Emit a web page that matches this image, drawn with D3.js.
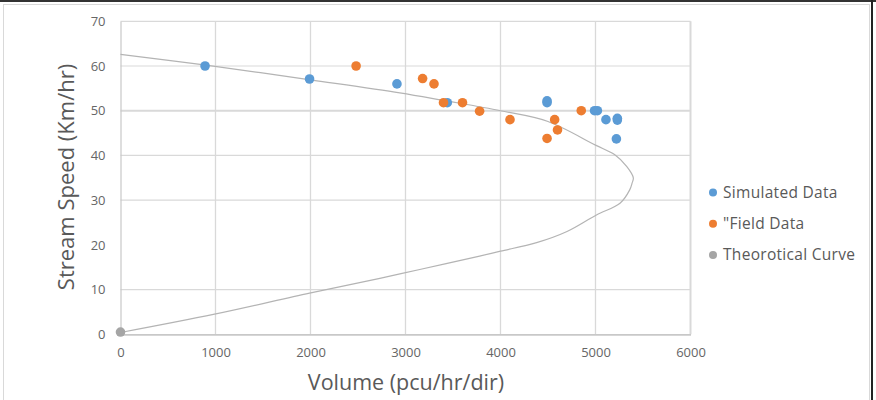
<!DOCTYPE html>
<html>
<head>
<meta charset="utf-8">
<script src="https://cdn.jsdelivr.net/npm/d3@7"></script>
<style>
  html, body { margin: 0; padding: 0; background: #fff; }
  svg { display: block; }
</style>
</head>
<body>
<svg id="chart" width="876" height="400"></svg>
<script>
// ---- Data ----
const xTicks = [0, 1000, 2000, 3000, 4000, 5000, 6000];
const yTicks = [0, 10, 20, 30, 40, 50, 60, 70];
const yGridValues = [10, 30, 40, 50, 60, 70];

const simulatedVolume = [890, 1990, 2910, 3440, 4490, 4490, 4990, 5020, 5110, 5230, 5230, 5220];
const simulatedSpeed  = [60, 57.1, 56, 51.8, 52.2, 51.8, 50, 50, 48, 48.3, 47.9, 43.7];

const fieldVolume = [2480, 3180, 3300, 3400, 3600, 3780, 4100, 4570, 4600, 4490, 4850];
const fieldSpeed  = [60, 57.2, 56, 51.8, 51.8, 49.9, 48, 48, 45.7, 43.8, 50];

const curveVolume = [0, 900, 2000, 2940, 3400, 4000, 4500, 5000, 5200, 5330, 5398, 5385, 5360, 5258, 5010, 4700, 4380, 4000, 3780, 3150, 2730, 1990, 990, 0];
const curveSpeed  = [62.6, 60.2, 56.9, 54.0, 52.3, 50.0, 47.6, 42.3, 40.2, 37.5, 35.0, 33.8, 32.3, 29.3, 26.7, 23.0, 20.5, 18.6, 17.5, 14.5, 12.5, 9.2, 4.5, 0.4];

const theoryPointVolume = [0];
const theoryPointSpeed  = [0.5];

const legendLabels = ["Simulated Data", "\"Field Data", "Theorotical Curve"];
const legendColors = ["#5b9bd5", "#ed7d31", "#a5a5a5"];

// ---- Drawing ----
const svg = d3.select("#chart");
const font = "'Open Sans', Lato, sans-serif";
const textColor = "#595959";

// frame
svg.append("rect").attr("x", 0).attr("y", 0).attr("width", 876).attr("height", 2).attr("fill", "#333");
svg.append("line").attr("x1", 3).attr("x2", 870).attr("y1", 4.5).attr("y2", 4.5).attr("stroke", "#d9d9d9");
svg.append("line").attr("x1", 3.5).attr("x2", 3.5).attr("y1", 4).attr("y2", 400).attr("stroke", "#d9d9d9");
svg.append("line").attr("x1", 869.5).attr("x2", 869.5).attr("y1", 4).attr("y2", 400).attr("stroke", "#d9d9d9");
svg.append("rect").attr("x", 871).attr("y", 0).attr("width", 2).attr("height", 400).attr("fill", "#222");

const x = d3.scaleLinear().domain([0, 6000]).range([120.5, 690.5]);
const y = d3.scaleLinear().domain([0, 70]).range([334.3, 21.3]);

// gridlines
const grid = svg.append("g");
grid.selectAll("line.h").data(yGridValues).join("line")
  .attr("x1", x(0)).attr("x2", x(6000))
  .attr("y1", d => y(d)).attr("y2", d => y(d))
  .attr("stroke", "#d9d9d9").attr("stroke-width", d => d === 50 ? 1.8 : 1.2);
grid.selectAll("line.v").data(xTicks.slice(1)).join("line")
  .attr("x1", d => x(d)).attr("x2", d => x(d))
  .attr("y1", y(70)).attr("y2", y(0))
  .attr("stroke", "#d9d9d9").attr("stroke-width", d => d === 6000 ? 2 : 1.3);

// axes
const xAxis = svg.append("g").attr("transform", `translate(0,${y(0)})`)
  .call(d3.axisBottom(x).tickValues(xTicks).tickSize(0).tickPadding(13).tickFormat(d3.format("d")));
xAxis.select(".domain").attr("stroke", "#c8c8c8").attr("stroke-width", 1.8);
xAxis.selectAll("text").attr("fill", "#666").attr("font-family", font).attr("font-size", "13px");

const yAxis = svg.append("g").attr("transform", `translate(${x(0)},0)`)
  .call(d3.axisLeft(y).tickValues(yTicks).tickSize(0).tickPadding(15));
yAxis.select(".domain").attr("stroke", "#c8c8c8").attr("stroke-width", 1.2);
yAxis.selectAll("text").attr("fill", "#666").attr("font-family", font).attr("font-size", "13px");

// theoretical curve
const curvePts = curveVolume.map((v, i) => [v, curveSpeed[i]]);
svg.append("path").datum(curvePts)
  .attr("d", d3.line().x(d => x(d[0])).y(d => y(d[1])).curve(d3.curveCatmullRom.alpha(0.5)))
  .attr("fill", "none").attr("stroke", "#b4b4b4").attr("stroke-width", 1.2);

// markers
function drawPoints(vols, speeds, color) {
  svg.append("g").selectAll("circle").data(vols.map((v, i) => [v, speeds[i]])).join("circle")
    .attr("cx", d => x(d[0])).attr("cy", d => y(d[1])).attr("r", 4.8).attr("fill", color);
}
drawPoints(theoryPointVolume, theoryPointSpeed, legendColors[2]);
drawPoints(simulatedVolume, simulatedSpeed, legendColors[0]);
drawPoints(fieldVolume, fieldSpeed, legendColors[1]);

// axis titles
svg.append("text").attr("x", 406).attr("y", 390).attr("text-anchor", "middle")
  .attr("font-family", font).attr("font-size", "21.5px").attr("fill", textColor)
  .text("Volume (pcu/hr/dir)");
svg.append("text").attr("transform", "translate(74,177) rotate(-90)").attr("text-anchor", "middle")
  .attr("font-family", font).attr("font-size", "22px").attr("fill", textColor)
  .text("Stream Speed (Km/hr)");

// legend
const legend = svg.append("g");
legendLabels.forEach((lab, i) => {
  const ly = 192.5 + i * 31.2;
  legend.append("circle").attr("cx", 713).attr("cy", ly).attr("r", 4).attr("fill", legendColors[i]);
  legend.append("text").attr("x", 723).attr("y", ly + 5.5).attr("font-family", font)
    .attr("font-size", "15.5px").attr("letter-spacing", "0.3px").attr("fill", textColor).text(lab);
});
</script>
</body>
</html>
